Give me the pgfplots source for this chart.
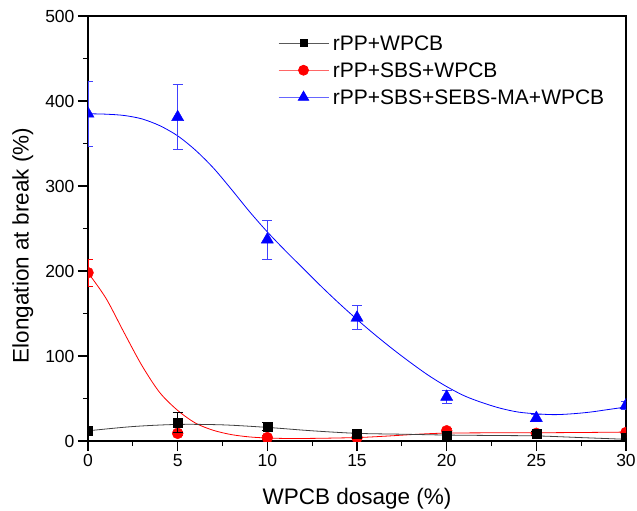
\documentclass[border=0pt]{standalone}
\usepackage{fontspec}
\setmainfont{Liberation Sans}
\usepackage{pgfplots}
\pgfplotsset{compat=1.18}
\begin{document}
\begin{tikzpicture}
\begin{axis}[
  scale only axis, width=538pt, height=425pt,
  xmin=0, xmax=30, ymin=0, ymax=500,
  xtick={0,5,...,30}, ytick={0,100,...,500},
  minor x tick num=1, minor y tick num=1,
  tick align=outside, xtick pos=bottom, ytick pos=left,
  major tick length=10pt, minor tick length=5pt,
  every tick/.style={black, line width=1.2pt},
  axis line style={black, line width=1.5pt},
  tick label style={font=\fontsize{17.5}{20}\selectfont},
  /pgf/number format/assume math mode=true,
  xlabel={WPCB dosage (\%)}, ylabel={Elongation at break (\%)},
  every axis x label/.style={at={(rel axis cs:0.5,0)}, anchor=base, yshift=-63.5pt, font=\fontsize{22.5}{26}\selectfont},
  every axis y label/.style={at={(rel axis cs:0,0.46)}, xshift=-59.4pt, rotate=90, anchor=base, font=\fontsize{22.5}{26}\selectfont},
  clip marker paths=true,
  legend image code/.code={\draw[mark repeat=2,mark phase=2,#1] plot coordinates {(0pt,0pt) (25pt,0pt) (50pt,0pt)};},
  legend style={at={(rel axis cs:0.353,0.954)}, anchor=north west, draw=none, fill=none,
    font=\fontsize{21}{24}\selectfont, inner sep=0pt, row sep=12pt, column sep=4pt,
    nodes={inner sep=0pt, text height=15pt, text depth=0pt, anchor=west}},
  legend cell align=left,
]
\addlegendimage{black!65, line width=0.8pt, mark=square*, mark size=3.5pt, mark options={solid, draw=black, fill=black}}
\addlegendentry{rPP+WPCB}
\addlegendimage{red!60, line width=0.8pt, mark=*, mark size=5pt, mark options={solid, draw=red, fill=red}}
\addlegendentry{rPP+SBS+WPCB}
\addlegendimage{blue!60, line width=0.8pt, mark=triangle*, mark size=6pt, mark options={solid, draw=blue, fill=blue}}
\addlegendentry{rPP+SBS+SEBS-MA+WPCB}

% fitted curves
\addplot[forget plot, blue, line width=0.8pt, smooth, no marks] coordinates {
 (0,385) (1,384.5) (2,383) (3,379) (4,371) (5,359) (6,342) (7,321) (8,296) (9,270)
 (10,246) (11,224) (12,203) (13,182) (14,162) (15,143) (16,125) (17,108) (18,92)
 (19,77) (20,64) (21,53) (22,45) (23,38.5) (24,34) (25,32) (26,31) (27,32) (28,34)
 (29,37) (30,40)};
\addplot[forget plot, red, line width=0.8pt, smooth, no marks] coordinates {
 (0,198) (1,168) (2,128) (3,89) (4,57) (5,36) (6,21) (7,12.5) (8,7.5) (9,4.8)
 (10,3.5) (11,3) (12,3) (13,3.2) (14,3.6) (15,4) (16,5) (17,6.2) (18,7.5) (19,8.6)
 (20,9.3) (22,9.6) (25,9.7) (28,10.1) (30,10.5)};
\addplot[forget plot, black!75, line width=0.8pt, smooth, no marks] coordinates {
 (0,12) (2.5,17) (5,19.5) (7.5,19) (10,16) (12.5,12) (15,9) (17.5,8) (20,7)
 (22.5,6.5) (25,6) (27.5,4) (30,2)};

% data points with error bars
\addplot[forget plot, only marks, blue, mark=triangle*, mark size=7pt, mark options={solid, fill=blue},
  error bars/.cd, y dir=both, y explicit,
  error bar style={blue!75, line width=0.9pt}, error mark options={rotate=90, mark size=5pt, blue!75, line width=0.9pt}]
 coordinates {(0,385) +- (0,38) (5,381) +- (0,38) (10,237) +- (0,23) (15,145) +- (0,14)
  (20,52) +- (0,8) (25,27) +- (0,4) (30,42) +- (0,5)};
\addplot[forget plot, only marks, red, mark=*, mark size=5.5pt, mark options={solid, fill=red},
  error bars/.cd, y dir=both, y explicit,
  error bar style={red, line width=0.9pt}, error mark options={rotate=90, mark size=5pt, red, line width=0.9pt}]
 coordinates {(0,198) +- (0,16) (5,9) +- (0,2) (10,4) +- (0,2) (15,4) +- (0,2)
  (20,12) +- (0,3) (25,9) +- (0,2) (30,10) +- (0,2)};
\addplot[forget plot, only marks, black, mark=square*, mark size=4.5pt, mark options={solid, fill=black},
  error bars/.cd, y dir=both, y explicit,
  error bar style={black, line width=0.9pt}, error mark options={rotate=90, mark size=5pt, black, line width=0.9pt}]
 coordinates {(0,12) +- (0,3) (5,22) +- (0,12) (10,17) +- (0,5) (15,9) +- (0,2)
  (20,6) +- (0,2) (25,9) +- (0,2) (30,4) +- (0,2)};

\coordinate (ll) at (rel axis cs:0,0);
\coordinate (ur) at (rel axis cs:1,1);
\end{axis}
\pgfresetboundingbox
\path ([shift={(-88pt,-70pt)}]ll) rectangle ([shift={(11pt,16pt)}]ur);
\end{tikzpicture}
\end{document}
